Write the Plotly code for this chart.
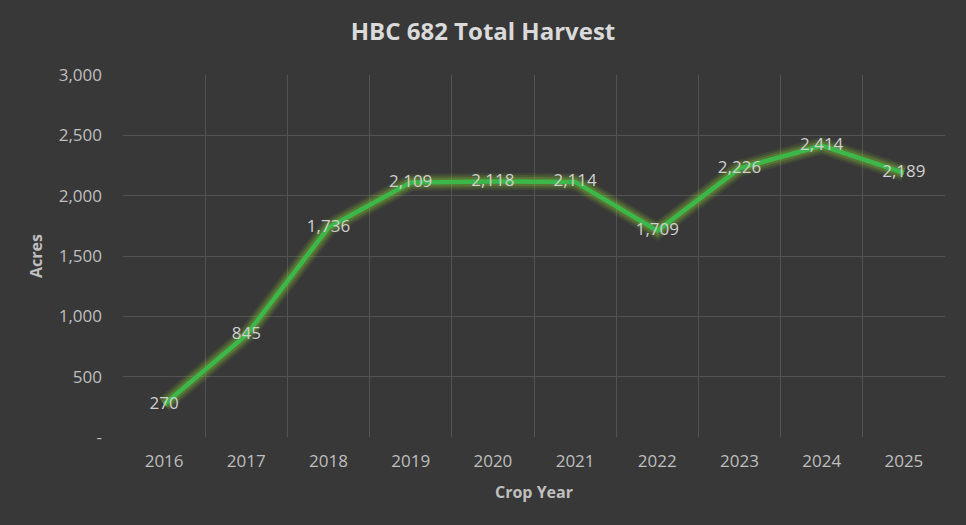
import plotly.graph_objects as go

years = ["2016", "2017", "2018", "2019", "2020", "2021", "2022", "2023", "2024", "2025"]
acres = [270, 845, 1736, 2109, 2118, 2114, 1709, 2226, 2414, 2189]
ytick_vals = [0, 500, 1000, 1500, 2000, 2500, 3000]
ytick_text = ["-", "500", "1,000", "1,500", "2,000", "2,500", "3,000"]
labels = [f"{v:,}" for v in acres]

BG = "#383838"
GRID = "#535353"
FONT = "Open Sans"

fig = go.Figure()
# soft glow layers
for w, a in [(17, 0.10), (13, 0.14), (9, 0.22)]:
    fig.add_trace(go.Scatter(x=years, y=acres, mode="lines",
                             line=dict(color=f"rgba(140,210,50,{a})", width=w),
                             hoverinfo="skip", showlegend=False))
fig.add_trace(go.Scatter(x=years, y=acres, mode="lines+text",
                         line=dict(color="#3cb84a", width=4.5),
                         text=labels, textposition="middle center",
                         textfont=dict(family=FONT, size=17, color="#d0d0d0"),
                         showlegend=False))

fig.update_layout(
    width=966, height=525,
    paper_bgcolor=BG, plot_bgcolor=BG,
    margin=dict(l=123, r=21, t=75, b=88),
    title=dict(text="<b>HBC 682 Total Harvest</b>", x=0.5, xanchor="center",
               y=0.94, yanchor="middle",
               font=dict(family=FONT, size=24, color="#dadada")),
    font=dict(family=FONT, color="#bfbfbf"),
)
fig.update_xaxes(type="category", tickson="boundaries", showgrid=True,
                 gridcolor=GRID, gridwidth=1, ticks="", showline=False, zeroline=False,
                 ticklabelstandoff=12,
                 tickfont=dict(family=FONT, size=17, color="#bfbfbf"),
                 title=dict(text="<b>Crop Year</b>", standoff=15,
                            font=dict(family=FONT, size=16, color="#bfbfbf")))
fig.update_yaxes(range=[0, 3000], tickvals=ytick_vals, ticktext=ytick_text,
                 showgrid=True, gridcolor=GRID, gridwidth=1, zeroline=False,
                 showline=False, ticks="", ticklabelstandoff=20,
                 tickfont=dict(family=FONT, size=17, color="#bfbfbf"),
                 title=dict(text="<b>Acres</b>", standoff=12,
                            font=dict(family=FONT, size=16, color="#bfbfbf")))

fig.write_html("out.html")
